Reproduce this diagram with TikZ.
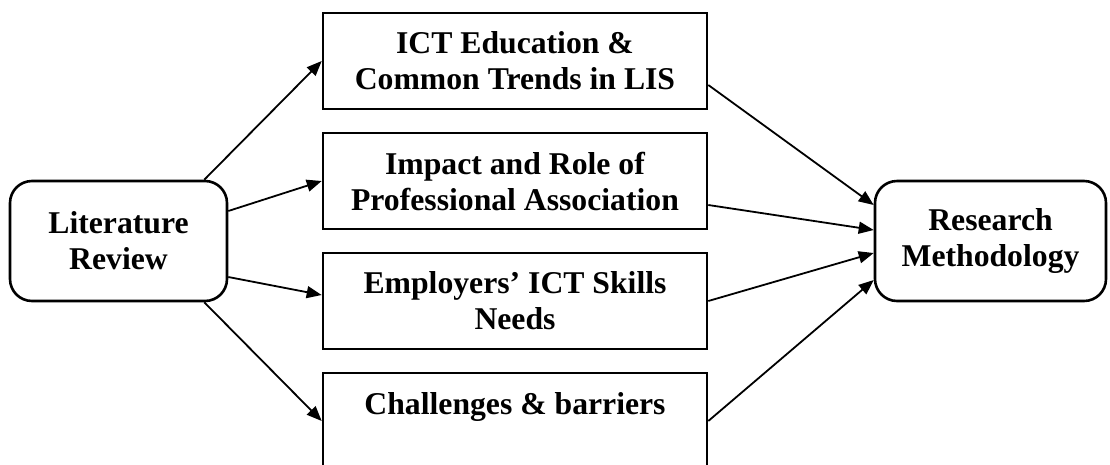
\documentclass[tikz,border=0pt]{standalone}
\usepackage{fontspec}
\setmainfont{Liberation Serif}
\usetikzlibrary{arrows.meta}

\begin{document}
\begin{tikzpicture}[x=1pt,y=-1pt]

        \tikzstyle{endbox}=[draw,line width=2.6pt,rounded corners=22pt,align=center,
            font=\bfseries\fontsize{31.7}{36}\selectfont,minimum height=120pt]
        \tikzstyle{topicbox}=[draw,line width=2.6pt,align=center,
            font=\bfseries\fontsize{31.7}{36}\selectfont,minimum width=384pt,minimum height=96pt]
        \tikzstyle{link}=[line width=1.8pt,-{Triangle[length=15pt,width=12pt]}]

        \useasboundingbox (0,0) rectangle (1110,464);

        %% Start and end of the review
        \node [endbox,minimum width=217pt] (litreview) at (118.5,241) {Literature\\Review};
        \node [endbox,minimum width=231pt] (resmethod) at (990.5,241) {Research\\Methodology};

        %% Topics in the middle column
        \node [topicbox] (ictedu)    at (515,61)  {ICT Education \&\\Common Trends in LIS};
        \node [topicbox] (profassoc) at (515,181) {Impact and Role of\\Professional Association};
        \node [topicbox] (skills)    at (515,301) {Employers’ ICT Skills\\Needs};
        \node [topicbox] (barriers)  at (515,421) {Challenges \& barriers\\~};

        %% Literature review -> topics
        \draw [link] ([xshift=-24pt]litreview.north east) -- (ictedu.west);
        \draw [link] ([yshift=30pt]litreview.east) -- (profassoc.west);
        \draw [link] ([yshift=-36pt]litreview.east) -- ([yshift=6pt]skills.west);
        \draw [link] ([xshift=-24pt]litreview.south east) -- (barriers.west);

        %% topics -> research methodology
        \draw [link] ([yshift=-24pt]ictedu.east) -- ([yshift=36pt]resmethod.west);
        \draw [link] ([yshift=-24pt]profassoc.east) -- ([yshift=11pt]resmethod.west);
        \draw [link] (skills.east) -- ([yshift=-12pt]resmethod.west);
        \draw [link] (barriers.east) -- ([yshift=-39pt]resmethod.west);

\end{tikzpicture}
\end{document}
